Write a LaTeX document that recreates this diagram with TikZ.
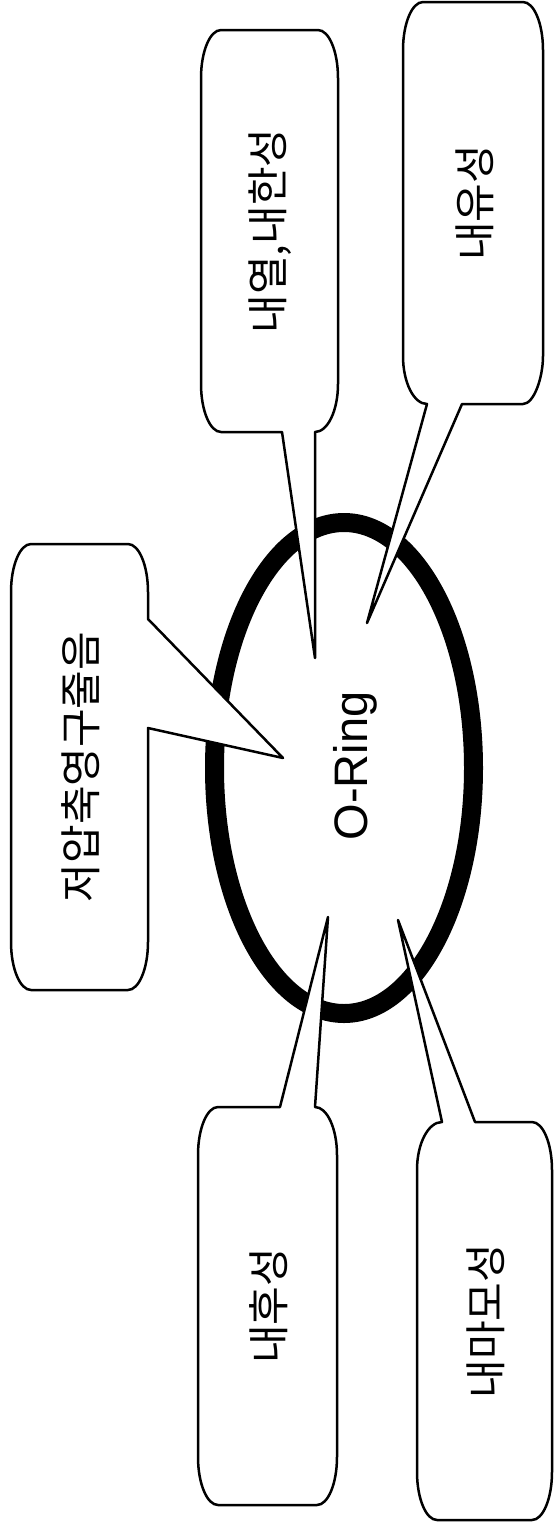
\documentclass[tikz,border=0pt]{standalone}
\usepackage{fontspec}
\setmainfont{Liberation Sans}
\newfontfamily\kr{Noto Sans CJK KR}
\usetikzlibrary{shapes.geometric}
\tikzset{
  callout/.style={draw=black, fill=white, line width=2.5pt, line join=round},
  ring/.style={draw=black, ellipse, line width=19pt, inner sep=0pt},
  krlabel/.style={rotate=90, inner sep=0pt, font=\kr\fontsize{42}{42}\selectfont},
  ringlabel/.style={rotate=90, inner sep=0pt, font=\fontsize{47}{47}\selectfont}
}
\begin{document}
\begin{tikzpicture}[x=1pt, y=-1pt]
\useasboundingbox (0,0) rectangle (556,1523);
\fill[white] (0,0) rectangle (556,1523);

% ring
\node[ring, minimum width=259pt, minimum height=491pt] (oring) at (344,768) {};

% pointer tips
\coordinate (tipA) at (315,658);
\coordinate (tipB) at (367,623);
\coordinate (tipC) at (283,758);
\coordinate (tipD) at (328,917);
\coordinate (tipE) at (398,920);

% callout A
\draw[callout] (282,432) -- (221,432)
  .. controls (210,432) and (201,410.5) .. (201,384) -- (201,78)
  .. controls (201,51.5) and (210,30) .. (221,30) -- (318,30)
  .. controls (329,30) and (338,51.5) .. (338,78) -- (338,384)
  .. controls (338,410.5) and (327.7,432) .. (315,432) -- (tipA) -- cycle;
% callout B
\draw[callout] (462,404) -- (523,404)
  .. controls (534,404) and (543,377.5) .. (543,356) -- (543,50)
  .. controls (543,23.5) and (534,2) .. (523,2) -- (423,2)
  .. controls (412,2) and (403,23.5) .. (403,50) -- (403,356)
  .. controls (403,382.5) and (413.8,404) .. (427,404) -- (tipB) -- cycle;
% callout C
\draw[callout] (31,544) -- (128,544)
  .. controls (139,544) and (148,565.5) .. (148,592) -- (148,619) -- (tipC) -- (148,728) -- (148,942)
  .. controls (148,968.5) and (139,990) .. (128,990) -- (31,990)
  .. controls (20,990) and (11,968.5) .. (11,942) -- (11,592)
  .. controls (11,565.5) and (20,544) .. (31,544) -- cycle;
% callout D
\draw[callout] (280,1107) -- (tipD) -- (315,1107)
  .. controls (327.1,1107) and (337,1128.5) .. (337,1155) -- (337,1457)
  .. controls (337,1483.5) and (328,1505) .. (317,1505) -- (218,1505)
  .. controls (207,1505) and (198,1483.5) .. (198,1457) -- (198,1155)
  .. controls (198,1128.5) and (207,1107) .. (218,1107) -- cycle;
% callout E
\draw[callout] (475,1122) -- (tipE) -- (442,1122)
  .. controls (428.2,1122) and (417,1143.5) .. (417,1170) -- (417,1472)
  .. controls (417,1498.5) and (426,1520) .. (437,1520) -- (532,1520)
  .. controls (543,1520) and (552,1498.5) .. (552,1472) -- (552,1170)
  .. controls (552,1143.5) and (543,1122) .. (532,1122) -- cycle;

% labels
\node[ringlabel, anchor=base] (ringtext) at (367,766) {O-Ring};
\node[krlabel] (labA) at (270,231) {내열,내한성};
\node[krlabel] (labB) at (475,203) {내유성};
\node[krlabel] (labC) at (81,767) {저압축영구줄음};
\node[krlabel] (labD) at (269,1306) {내후성};
\node[krlabel] (labE) at (486,1321) {내마모성};
\end{tikzpicture}
\end{document}
